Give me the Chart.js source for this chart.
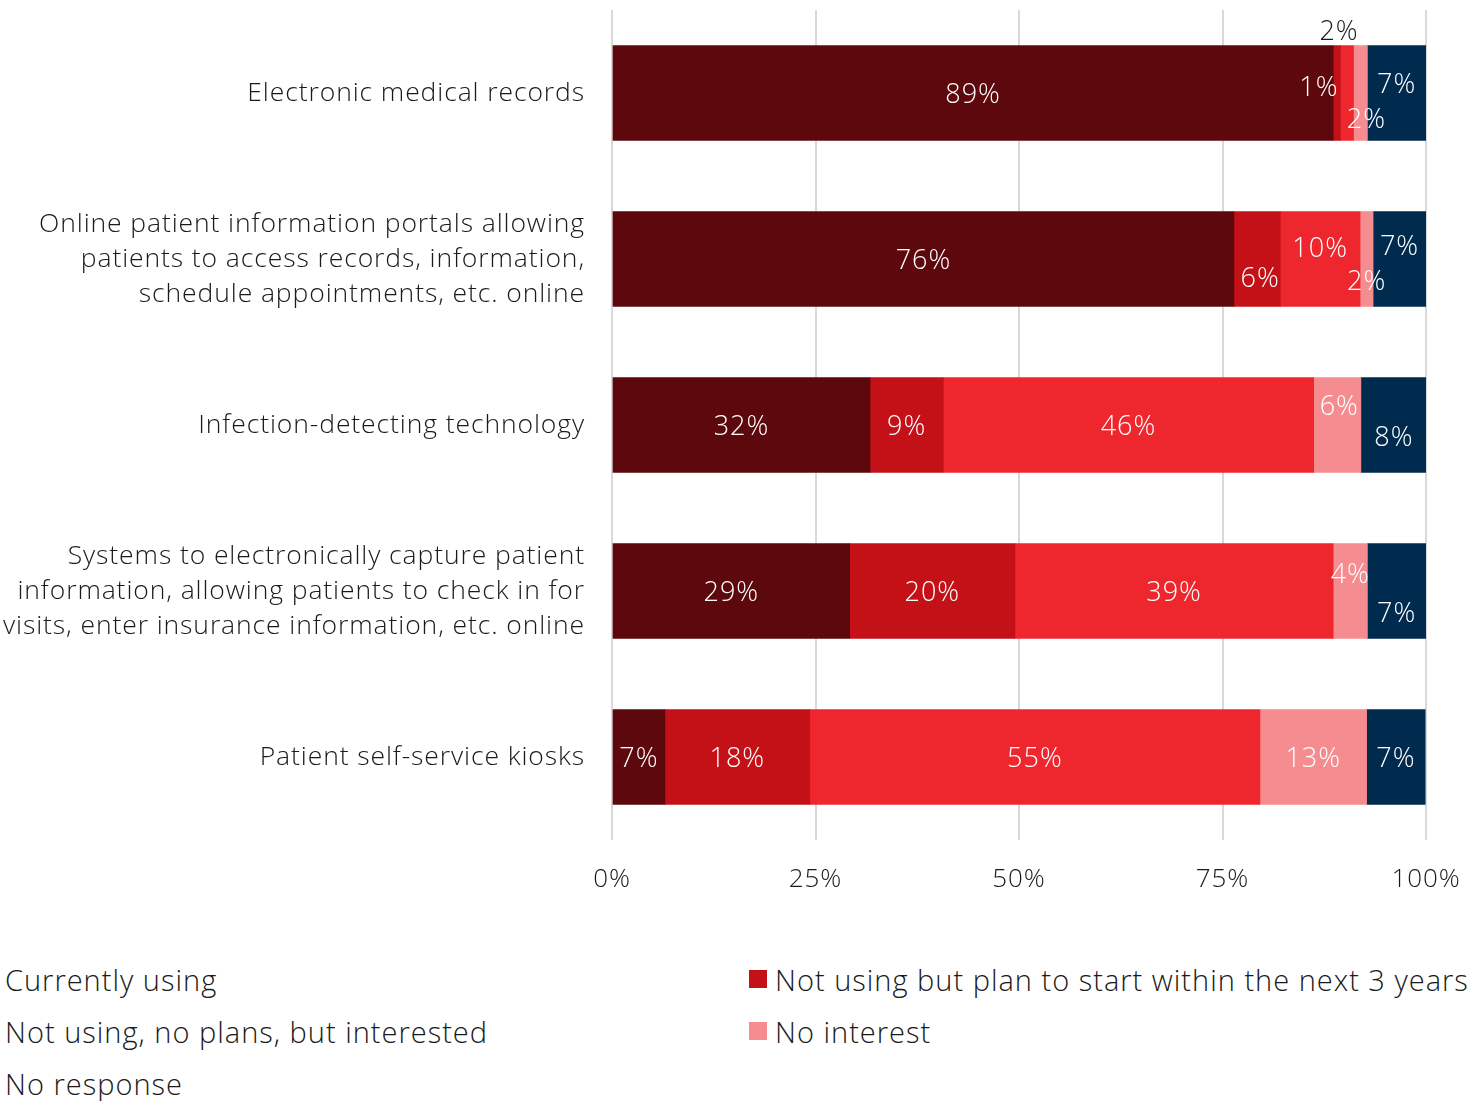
<!DOCTYPE html>
<html>
<head>
<meta charset="utf-8">
<title>Technology adoption</title>
<script src="https://cdn.jsdelivr.net/npm/chart.js@4.4.1/dist/chart.umd.min.js"></script>
<style>
  html, body { margin: 0; padding: 0; background: #fff; overflow: hidden; }
  body { width: 1484px; height: 1101px; position: relative; font-family: "Open Sans", "Noto Sans", sans-serif; }
  #chartWrap { position: absolute; left: 0; top: 0; width: 1484px; height: 920px; }
  #legend {
    position: absolute; left: -21px; top: 953px;
    display: grid; grid-template-columns: 770px 770px; grid-auto-rows: 52px;
    font-size: 29px; font-weight: 300; letter-spacing: 1px; color: #1a1a1a;
  }
  #legend .item { display: flex; align-items: center; white-space: nowrap; }
  #legend .box { width: 18px; height: 18px; margin-right: 8px; flex: none; }
</style>
</head>
<body>
<div id="chartWrap"><canvas id="adoptionChart"></canvas></div>
<div id="legend"></div>
<script>
// Categories (multi-line labels as arrays)
const categories = [
    'Electronic medical records',
    ['Online patient information portals allowing', 'patients to access records, information,', 'schedule appointments, etc. online'],
    'Infection-detecting technology',
    ['Systems to electronically capture patient', 'information, allowing patients to check in for', 'visits, enter insurance information, etc. online'],
    'Patient self-service kiosks'
];

const seriesNames = [
    'Currently using',
    'Not using but plan to start within the next 3 years',
    'Not using, no plans, but interested',
    'No interest',
    'No response'
];

// Share of respondents, percent
const currentlyUsing = [88.6, 76.4, 31.7, 29.2, 6.5];
const planToStart = [0.9, 5.7, 9.0, 20.3, 17.8];
const interested = [1.6, 9.8, 45.5, 39.1, 55.3];
const noInterest = [1.7, 1.6, 5.8, 4.2, 13.1];
const noResponse = [7.2, 6.5, 8.1, 7.2, 7.2];

const xTicks = [0, 25, 50, 75, 100];

const seriesColors = ['#5c080c', '#c41118', '#ee272e', '#f58d90', '#002b4f'];

const FONT = '"Open Sans", "Noto Sans", sans-serif';
const TEXT = '#1a1a1a';

// Offsets for labels on thin segments so they don't collide ("dataset:index")
const labelNudges = {
    '1:0': { dx: -18, dy: -7 },
    '2:0': { dx: -8, dy: -63, color: TEXT },
    '3:0': { dx: 6, dy: 25 },
    '4:0': { dx: 0, dy: -10 },
    '1:1': { dx: 3, dy: 18 },
    '2:1': { dx: 0, dy: -12 },
    '3:1': { dx: 0, dy: 21 },
    '4:1': { dx: 0, dy: -14 },
    '3:2': { dx: 2, dy: -20 },
    '4:2': { dx: 0, dy: 11 },
    '3:3': { dx: 0, dy: -18 },
    '4:3': { dx: 0, dy: 21 }
};

const allSeries = [currentlyUsing, planToStart, interested, noInterest, noResponse];

// Slightly looser tracking for all canvas text
const wideText = {
    id: 'wideText',
    beforeUpdate(chart) { chart.ctx.letterSpacing = '0.9px'; },
    beforeDraw(chart) { chart.ctx.letterSpacing = '0.9px'; }
};

const segmentLabels = {
    id: 'segmentLabels',
    afterDatasetsDraw(chart) {
        const { ctx } = chart;
        ctx.save();
        ctx.font = '300 27px ' + FONT;
        ctx.letterSpacing = '1px';
        ctx.textAlign = 'center';
        ctx.textBaseline = 'middle';
        chart.data.datasets.forEach((ds, di) => {
            chart.getDatasetMeta(di).data.forEach((bar, i) => {
                const nudge = labelNudges[di + ':' + i] || { dx: 0, dy: 0 };
                const cx = (bar.x + bar.base) / 2 + nudge.dx;
                const cy = bar.y + 2 + nudge.dy;
                ctx.fillStyle = nudge.color || '#fff';
                ctx.fillText(Math.round(ds.data[i]) + '%', cx, cy);
            });
        });
        ctx.restore();
    }
};

const chart = new Chart(document.getElementById('adoptionChart'), {
    type: 'bar',
    data: {
        labels: categories,
        datasets: allSeries.map((values, k) => ({
            label: seriesNames[k],
            data: values,
            backgroundColor: seriesColors[k],
            borderWidth: 0,
            barThickness: 95
        }))
    },
    options: {
        indexAxis: 'y',
        responsive: true,
        maintainAspectRatio: false,
        animation: false,
        layout: { padding: { top: 10, right: 58, bottom: 0, left: 0 } },
        plugins: {
            legend: { display: false },
            tooltip: { enabled: false }
        },
        scales: {
            x: {
                stacked: true,
                min: 0,
                max: 100,
                afterBuildTicks: (scale) => { scale.ticks = xTicks.map(v => ({ value: v })); },
                afterFit: (scale) => {
                    scale.height = 80;
                    scale.paddingLeft = 0;
                    scale.paddingRight = 0;
                },
                grid: { color: '#d9d9d9', lineWidth: 2, drawTicks: false },
                border: { display: false },
                ticks: {
                    padding: 24,
                    color: TEXT,
                    font: { family: FONT, size: 26, weight: '300' },
                    callback: (v) => v + '%'
                }
            },
            y: {
                stacked: true,
                afterFit: (scale) => {
                    scale.width = 612;
                    scale.paddingTop = 0;
                    scale.paddingBottom = 0;
                },
                grid: { display: false, drawTicks: false },
                border: { display: false },
                ticks: {
                    padding: 27,
                    color: TEXT,
                    font: { family: FONT, size: 26.5, weight: '300', lineHeight: 1.32 }
                }
            }
        }
    },
    plugins: [wideText, segmentLabels]
});

// Two-column legend built from the datasets
const legendEl = document.getElementById('legend');
chart.data.datasets.forEach((ds) => {
    const item = document.createElement('div');
    item.className = 'item';
    const box = document.createElement('span');
    box.className = 'box';
    box.style.background = ds.backgroundColor;
    item.appendChild(box);
    item.appendChild(document.createTextNode(ds.label));
    legendEl.appendChild(item);
});
</script>
</body>
</html>
